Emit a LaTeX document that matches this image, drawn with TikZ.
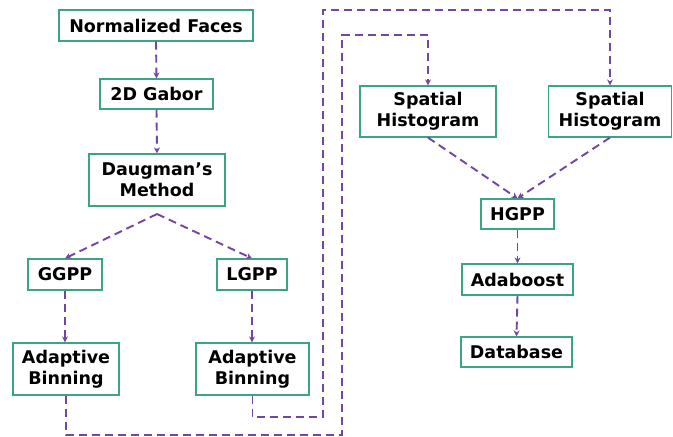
\documentclass[tikz,border=0pt]{standalone}
\usepackage{fontspec}
\setmainfont{DejaVu Sans}
\usetikzlibrary{arrows.meta}
\definecolor{boxline}{HTML}{3AA584}
\definecolor{flowline}{HTML}{7345A5}
\tikzset{
  stage/.style={draw=boxline, line width=1.2pt, fill=white, inner sep=0pt,
    align=center, font=\fontsize{17.5}{21}\selectfont\bfseries},
  flow/.style={draw=flowline, line width=1.9pt, dash pattern=on 8pt off 5pt,
    -{Stealth[length=6pt,width=6pt]}}
}
\begin{document}
\begin{tikzpicture}[x=1pt,y=-1pt]
\useasboundingbox (0,0) rectangle (673,437);
\fill[white] (0,0) rectangle (673,437);

% left column
\node[stage, minimum width=194pt, minimum height=31pt] (nf) at (156,25.5) {Normalized Faces};
\node[stage, minimum width=113pt, minimum height=30pt] (gab) at (156.5,94) {2D Gabor};
\node[stage, minimum width=136pt, minimum height=52pt] (dau) at (157,180) {Daugman’s\\Method};
\node[stage, minimum width=74pt, minimum height=31pt] (ggpp) at (65,274.5) {GGPP};
\node[stage, minimum width=70pt, minimum height=31pt] (lgpp) at (252,274.5) {LGPP};
\node[stage, minimum width=106pt, minimum height=52pt] (abl) at (66,369) {Adaptive\\Binning};
\node[stage, minimum width=113pt, minimum height=52pt] (abr) at (252.5,369) {Adaptive\\Binning};

% right column
\node[stage, minimum width=136pt, minimum height=51pt] (shl) at (428,111.5) {Spatial\\Histogram};
\node[stage, minimum width=123pt, minimum height=51pt] (shr) at (610,111.5) {Spatial\\Histogram};
\node[stage, minimum width=73pt, minimum height=30pt] (hgpp) at (517.5,214) {HGPP};
\node[stage, minimum width=111pt, minimum height=31pt] (ada) at (517.5,279.5) {Adaboost};
\node[stage, minimum width=111pt, minimum height=30pt] (db) at (516.5,352) {Database};

% routing points
\coordinate (split) at (157,214);
\coordinate (l1) at (342,435);
\coordinate (l2) at (342,35);
\coordinate (r1) at (323,417);
\coordinate (r2) at (323,10);

% straight links
\draw[flow] (nf.south) -- (gab.north);
\draw[flow] (gab.south) -- (dau.north);
\draw[flow] (split) -- (ggpp.north);
\draw[flow] (split) -- (lgpp.north);
\draw[flow] (ggpp.south) -- (abl.north -| ggpp.south);
\draw[flow] (lgpp.south) -- (abr.north -| lgpp.south);
\draw[flow] (shl.south) -- (hgpp.north);
\draw[flow] (shr.south) -- (hgpp.north);
\draw[flow] (hgpp.south) -- (ada.north);
\draw[flow] (ada.south) -- (db.north);

% long routes to the histograms
\draw[flow] (abl.south) |- (l1) -- (l2) -| (shl.north);
\draw[flow] (abr.south) |- (r1) -- (r2) -| (shr.north);
\end{tikzpicture}
\end{document}
